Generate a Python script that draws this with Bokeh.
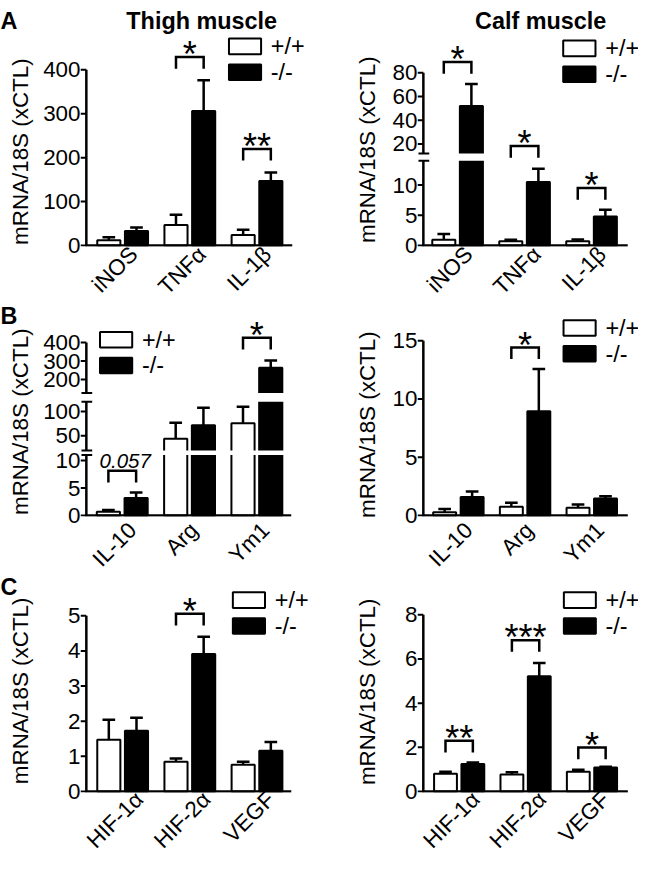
import math
from bokeh.plotting import figure
from bokeh.layouts import row, column
from bokeh.models import Range1d, FixedTicker, Label
from bokeh.core.properties import value
from bokeh.embed import file_html
from bokeh.resources import INLINE

S = 0.975          # reference pixel -> screen pixel
EXTRA = 6 / S      # extra room at the bottom (reference px)
FONT = "Liberation Sans"


def fpx(n):
    return f"{n * S:.1f}px"


# ------------------------- data -------------------------
genes_A = ["iNOS", "TNF\u03b1", "IL-1\u03b2"]
genes_B = ["IL-10", "Arg", "Ym1"]
genes_C = ["HIF-1\u03b1", "HIF-2\u03b1", "VEGF"]
groups = ["+/+", "-/-"]
y_title = "mRNA/18S (xCTL)"
col_titles = ["Thigh muscle", "Calf muscle"]
panel_letters = ["A", "B", "C"]

thigh_A_wt = [12, 47, 24]
thigh_A_wt_err = [7, 23, 12]
thigh_A_ko = [33, 306, 147]
thigh_A_ko_err = [8, 70, 19]
thigh_A_ticks = [0, 100, 200, 300, 400]
thigh_A_sig = ["", "*", "**"]

calf_A_wt = [0.97, 0.70, 0.70]
calf_A_wt_err = [0.93, 0.27, 0.30]
calf_A_ko = [52, 10.5, 4.8]
calf_A_ko_err = [18.5, 2.2, 1.1]
calf_A_ticks = [0, 5, 10, 20, 40, 60, 80]
calf_A_sig = ["*", "*", "*"]

thigh_B_wt = [0.7, 44, 76]
thigh_B_wt_err = [0.3, 33, 34]
thigh_B_ko = [3.2, 72, 264]
thigh_B_ko_err = [1.0, 36, 39]
thigh_B_ticks = [0, 5, 10, 50, 100, 200, 300, 400]
thigh_B_sig = ["0.057", "", "*"]

calf_B_wt = [0.28, 0.75, 0.67]
calf_B_wt_err = [0.28, 0.34, 0.28]
calf_B_ko = [1.59, 8.94, 1.45]
calf_B_ko_err = [0.48, 3.63, 0.20]
calf_B_ticks = [0, 5, 10, 15]
calf_B_sig = ["", "*", ""]

thigh_C_wt = [1.47, 0.85, 0.76]
thigh_C_wt_err = [0.57, 0.09, 0.09]
thigh_C_ko = [1.73, 3.91, 1.16]
thigh_C_ko_err = [0.37, 0.49, 0.25]
thigh_C_ticks = [0, 1, 2, 3, 4, 5]
thigh_C_sig = ["", "*", ""]

calf_C_wt = [0.81, 0.77, 0.89]
calf_C_wt_err = [0.08, 0.10, 0.10]
calf_C_ko = [1.24, 5.22, 1.09]
calf_C_ko_err = [0.07, 0.60, 0.03]
calf_C_ticks = [0, 2, 4, 6, 8]
calf_C_sig = ["**", "***", "*"]

# ------------------------- layout (reference pixels) -------------------------
ROWS = [0, 319, 598, 881 + EXTRA]
LEFT_STRIP = (0, 35)
RIGHT_STRIP = (327, 392)

panels = [
    dict(cell=(35, ROWS[0], 327, ROWS[1]), ax=87.5, base=251, c0=124.8, G=69, xend=299,
         segs=[(0, 400, 0, 180)], genes=genes_A,
         wt=thigh_A_wt, wte=thigh_A_wt_err, ko=thigh_A_ko, koe=thigh_A_ko_err,
         ticks=thigh_A_ticks, sig=thigh_A_sig, sigy=[0, 58, 152],
         legend=(234, 39), xstand=4, title=(col_titles[0], 206, 21)),
    dict(cell=(392, ROWS[0], 654, ROWS[1]), ax=434, base=251, c0=469, G=68.5, xend=643,
         segs=[(0, 14, 0, 86.8), (12, 80, 94.3, 177)], genes=genes_A,
         wt=calf_A_wt, wte=calf_A_wt_err, ko=calf_A_ko, koe=calf_A_ko_err,
         ticks=calf_A_ticks, sig=calf_A_sig, sigy=[63, 149, 192],
         legend=(577, 41), xstand=4, title=(col_titles[1], 554, 21)),
    dict(cell=(35, ROWS[1], 327, ROWS[2]), ax=88, base=529, c0=124.8, G=69, xend=298,
         segs=[(0, 11, 0, 62.2), (20, 120, 67, 117), (126, 400, 126, 178)], genes=genes_B,
         wt=thigh_B_wt, wte=thigh_B_wt_err, ko=thigh_B_ko, koe=thigh_B_ko_err,
         ticks=thigh_B_ticks, sig=thigh_B_sig, sigy=[483, 0, 346],
         legend=(102, 340), xstand=10, title=None),
    dict(cell=(392, ROWS[1], 654, ROWS[2]), ax=433, base=529, c0=469, G=68.5, xend=643,
         segs=[(0, 15, 0, 180)], genes=genes_B,
         wt=calf_B_wt, wte=calf_B_wt_err, ko=calf_B_ko, koe=calf_B_ko_err,
         ticks=calf_B_ticks, sig=calf_B_sig, sigy=[0, 356, 0],
         legend=(577, 328), xstand=10, title=None),
    dict(cell=(35, ROWS[2], 327, ROWS[3]), ax=87.5, base=811, c0=124.8, G=69, xend=298,
         segs=[(0, 5, 0, 180)], genes=genes_C,
         wt=thigh_C_wt, wte=thigh_C_wt_err, ko=thigh_C_ko, koe=thigh_C_ko_err,
         ticks=thigh_C_ticks, sig=thigh_C_sig, sigy=[0, 629, 0],
         legend=(238, 607), xstand=3, title=None),
    dict(cell=(392, ROWS[2], 654, ROWS[3]), ax=432, base=811, c0=469, G=68.5, xend=643,
         segs=[(0, 8, 0, 181)], genes=genes_C,
         wt=calf_C_wt, wte=calf_C_wt_err, ko=calf_C_ko, koe=calf_C_ko_err,
         ticks=calf_C_ticks, sig=calf_C_sig, sigy=[759, 656, 766],
         legend=(577, 607), xstand=3, title=None),
]

# y-title centres (reference px) and letter positions
ytitle_left = [(21, 155), (21, 432), (21, 708)]
ytitle_right = [(377, 153), (377, 435), (377, 709)]
letter_pos = [(0, 21), (0, 324), (0, 602)]

OFF = 0.206   # half distance between paired bars (group units)
HW = 0.172    # half bar width
XFS = 23      # x tick label font (reference px)

CW = {'i': .222, 'N': .722, 'O': .778, 'S': .667, 'T': .611, 'F': .611, '\u03b1': .6,
      'I': .278, 'L': .556, '-': .333, '1': .556, '\u03b2': .57, '0': .556, 'A': .667,
      'r': .333, 'g': .556, 'Y': .667, 'm': .833, 'H': .722, '2': .556, 'V': .667,
      'E': .667, 'G': .778}


def text_w(s, fs):
    return sum(CW.get(ch, .556) for ch in s) * fs


def sx(a, b):
    return round(b * S) - round(a * S)


def build(P):
    x0, y0, x1, y1 = P["cell"]
    ax, base, c0, G = P["ax"], P["base"], P["c0"], P["G"]
    segs = P["segs"]

    def X(q):
        return (q - c0) / G

    def Y(q):
        return base - q

    def T(v):
        for (v0, v1, h0, h1) in segs:
            if v <= v1:
                return h0 + (max(v, v0) - v0) * (h1 - h0) / (v1 - v0)
        v0, v1, h0, h1 = segs[-1]
        return h0 + (v - v0) * (h1 - h0) / (v1 - v0)

    W = sx(x0, x1)
    H = sx(y0, y1)
    p = figure(width=W, height=H, output_backend="svg", toolbar_location=None,
               x_range=Range1d(X(ax - 6), X(x1)), y_range=Range1d(-1, base - y0),
               min_border_left=round((ax - 6 - x0) * S), min_border_right=0,
               min_border_top=0, min_border_bottom=H - round((base + 1 - y0) * S),
               outline_line_color=None, background_fill_color="white",
               border_fill_color="white")
    p.xgrid.visible = False
    p.ygrid.visible = False

    n = len(P["genes"])
    idx = list(range(n))
    xw = [i - OFF for i in idx]
    xk = [i + OFF for i in idx]

    # bars
    p.quad(left=[c - HW for c in xw], right=[c + HW for c in xw], bottom=0,
           top=[T(v) for v in P["wt"]], fill_color="white", line_color="black", line_width=2)
    p.quad(left=[c - HW for c in xk], right=[c + HW for c in xk], bottom=0,
           top=[T(v) for v in P["ko"]], fill_color="black", line_color="black", line_width=2)

    # axis breaks (white gaps through the bars)
    for a, b in zip(segs[:-1], segs[1:]):
        p.quad(left=[X(ax + 1.5)], right=[X(P["xend"] + 3)], bottom=[a[3]], top=[b[2]],
               fill_color="white", line_color=None)

    # error bars (upper only)
    cap = 6.5 / G
    for cs, vals, errs in [(xw, P["wt"], P["wte"]), (xk, P["ko"], P["koe"])]:
        lo = [T(v) for v in vals]
        hi = [T(v + e) for v, e in zip(vals, errs)]
        p.segment(x0=cs, y0=lo, x1=cs, y1=hi, line_color="black", line_width=2.5)
        p.segment(x0=[c - cap for c in cs], y0=hi, x1=[c + cap for c in cs], y1=hi,
                  line_color="black", line_width=2.5)

    # axis lines, ticks, break marks
    for (v0, v1, h0, h1) in segs:
        p.segment(x0=[X(ax)], y0=[h0], x1=[X(ax)], y1=[h1], line_color="black", line_width=2.5)
    p.segment(x0=[X(ax - 1)], y0=[0], x1=[X(P["xend"])], y1=[0], line_color="black", line_width=2.5)
    tv = [round(T(v), 3) for v in P["ticks"]]
    p.segment(x0=[X(ax - 6)] * len(tv), y0=tv, x1=[X(ax)] * len(tv), y1=tv,
              line_color="black", line_width=2)
    for a, b in zip(segs[:-1], segs[1:]):
        p.segment(x0=[X(ax - 5)] * 2, y0=[a[3], b[2]], x1=[X(ax + 6)] * 2, y1=[a[3], b[2]],
                  line_color="black", line_width=2)

    # significance brackets
    for i, (lab, by) in enumerate(zip(P["sig"], P["sigy"])):
        if not lab:
            continue
        h = Y(by)
        p.multi_line(xs=[[i - OFF, i - OFF, i + OFF, i + OFF]], ys=[[h - 12, h, h, h - 12]],
                     line_color="black", line_width=2.5, line_join="miter")
        if lab.startswith("*"):
            p.text(x=[i], y=[Y(by - 13.5) - 11], text=[lab], text_align="center",
                   text_baseline="alphabetic", text_font=value(FONT),
                   text_font_size=value(fpx(37)), text_color="black")
        else:
            p.text(x=[X(c0 + i * G + 3)], y=[Y(by - 18) - 7.5], text=[lab], text_align="center",
                   text_baseline="alphabetic", text_font=value(FONT),
                   text_font_style="italic", text_font_size=value(fpx(21)), text_color="black")

    # legend
    lx, ly = P["legend"]
    p.quad(left=[X(lx)], right=[X(lx + 33)], top=[Y(ly)], bottom=[Y(ly + 16)],
           fill_color="white", line_color="black", line_width=2)
    p.quad(left=[X(lx)], right=[X(lx + 33)], top=[Y(ly + 26.5)], bottom=[Y(ly + 42.5)],
           fill_color="black", line_color="black", line_width=2)
    p.text(x=[X(lx + 43)] * 2, y=[Y(ly + 8), Y(ly + 34.5)], text=groups, text_align="left",
           text_baseline="middle", text_font=value(FONT), text_font_size=value(fpx(24)),
           text_color="black")

    if P["title"]:
        t, tx, ty = P["title"]
        p.add_layout(Label(x=X(tx), y=Y(ty), text=t, text_align="center",
                           text_baseline="alphabetic", text_font=FONT,
                           text_font_size=fpx(24), text_font_style="bold", text_color="black"))

    # y axis (tick labels only; line/ticks drawn above)
    yax = p.yaxis[0]
    yax.ticker = FixedTicker(ticks=tv)
    yax.major_label_overrides = {t: str(v) for t, v in zip(tv, P["ticks"])}
    yax.axis_line_color = None
    yax.major_tick_line_color = None
    yax.minor_tick_line_color = None
    yax.major_tick_out = 0
    yax.major_tick_in = 0
    yax.major_label_standoff = 0
    yax.major_label_text_font = FONT
    yax.major_label_text_font_size = fpx(23)
    yax.major_label_text_color = "black"

    # x axis: rotated category labels; tick placed so the label centre sits
    # slightly left of / below the group centre
    xt = [i + (-8 + 0.354 * text_w(g, XFS)) / G for i, g in zip(idx, P["genes"])]
    xax = p.xaxis[0]
    xax.ticker = FixedTicker(ticks=xt)
    xax.major_label_overrides = {t: g for t, g in zip(xt, P["genes"])}
    xax.axis_line_color = None
    xax.major_tick_line_color = None
    xax.minor_tick_line_color = None
    xax.major_tick_out = 0
    xax.major_tick_in = 0
    xax.major_label_standoff = round(P["xstand"] * S)
    xax.major_label_orientation = math.pi / 4
    xax.major_label_text_font = FONT
    xax.major_label_text_font_size = fpx(XFS)
    xax.major_label_text_color = "black"
    return p


def strip(xa, xb, titles, letters):
    W = sx(xa, xb)
    H = sx(ROWS[0], ROWS[3])
    p = figure(width=W, height=H, output_backend="svg", toolbar_location=None,
               x_range=Range1d(xa, xb), y_range=Range1d(-ROWS[3], 0),
               x_axis_location=None, y_axis_location=None,
               min_border_left=0, min_border_right=0, min_border_top=0, min_border_bottom=0,
               outline_line_color=None, background_fill_color="white",
               border_fill_color="white")
    p.xgrid.visible = False
    p.ygrid.visible = False
    p.text(x=[t[0] for t in titles], y=[-t[1] for t in titles], text=[y_title] * len(titles),
           angle=math.pi / 2, text_align="center", text_baseline="alphabetic",
           text_font=value(FONT), text_font_size=value(fpx(23)), text_color="black")
    if letters:
        p.text(x=[l[0] for l in letters], y=[-l[1] for l in letters], text=panel_letters,
               text_align="left", text_baseline="alphabetic", text_font=value(FONT),
               text_font_style="bold", text_font_size=value(fpx(24)), text_color="black")
    return p


figs = [build(P) for P in panels]
left_strip = strip(LEFT_STRIP[0], LEFT_STRIP[1], ytitle_left, letter_pos)
right_strip = strip(RIGHT_STRIP[0], RIGHT_STRIP[1], ytitle_right, None)

layout = row(left_strip, column(figs[0], figs[2], figs[4]),
             right_strip, column(figs[1], figs[3], figs[5]))

open("out.html", "w").write(file_html(layout, INLINE))
